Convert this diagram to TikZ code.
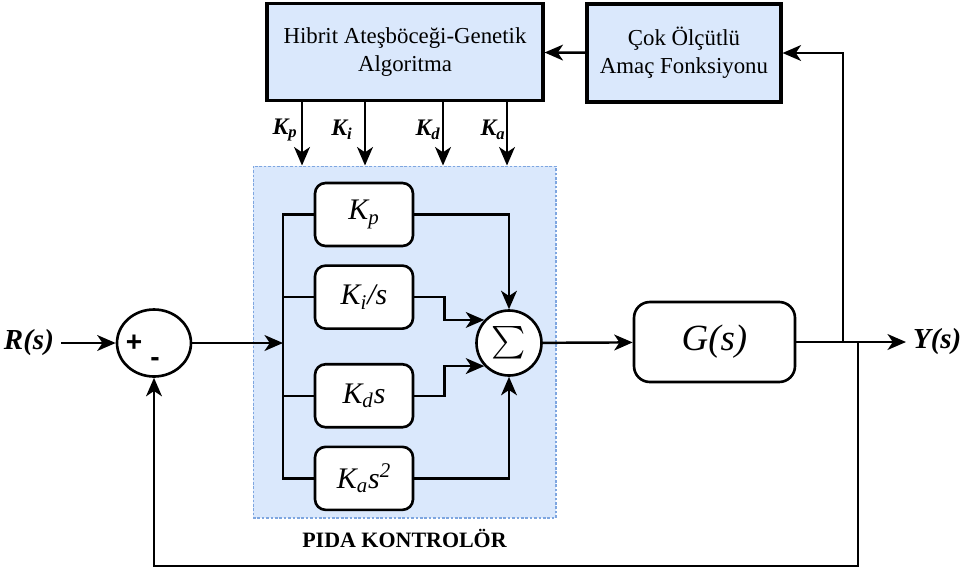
\documentclass[tikz,border=0pt]{standalone}
\usepackage{fontspec}
\setmainfont{Liberation Serif}
\newfontfamily\signfont{Liberation Sans}
\usetikzlibrary{arrows.meta, positioning, shapes.geometric}

\definecolor{paleblue}{HTML}{DAE8FC}
\definecolor{edgeblue}{HTML}{7EA6E0}

\begin{document}
\begin{tikzpicture}[x=0.02cm, y=-0.02cm, >={Stealth[length=10.5pt,width=9pt,inset=3pt]},
  line width=1.4pt, node distance=3.4mm,
  algo/.style={draw, line width=1.8pt, fill=paleblue, align=center, inner sep=0pt, font=\fontsize{13}{16}\selectfont},
  gain/.style={draw, rounded corners=6pt, line width=1.5pt, fill=white, minimum width=1.96cm, minimum height=1.26cm, inner sep=0pt, font=\fontsize{17}{19}\selectfont\itshape},
  junc/.style={draw, line width=1.5pt, fill=white, inner sep=0pt},
  sig/.style={font=\fontsize{16.5}{19}\selectfont\bfseries\itshape},
  klbl/.style={font=\fontsize{13.5}{15}\selectfont\bfseries\itshape},
  sgn/.style={font=\signfont\bfseries\fontsize{16}{16}\selectfont}]
\useasboundingbox (0,0) rectangle (963,572);

% controller area
\node[draw=edgeblue, dash pattern=on 1.5pt off 1pt, line width=0.6pt, fill=paleblue, minimum width=6.06cm, minimum height=7.04cm] (pida) at (404.5,342) {};
\node[font=\fontsize{12.5}{14}\selectfont\bfseries] (pidalbl) at (404.5,538) {PIDA KONTROLÖR};

% optimiser
\node[algo, minimum width=5.52cm, minimum height=1.94cm] (ga) at (405,52) {Hibrit Ateşböceği-Genetik\\Algoritma};
\node[algo, minimum width=3.88cm, minimum height=1.96cm] (obj) at (684,53) {Çok Ölçütlü\\Amaç Fonksiyonu};

% parallel gains
\node[gain] (kp) at (364,214.5) {K\textsubscript{p}};
\node[gain, below=of kp] (ki) {K\textsubscript{i}/s};
\node[gain, below=6.6mm of ki] (kd) {K\textsubscript{d}s};
\node[gain, below=of kd] (ka) {K\textsubscript{a}s\textsuperscript{2}};
\node[junc, circle, minimum size=1.3cm] (sum) at (509,343) {\scalebox{1.85}{$\sum$}};

% loop
\node[junc, ellipse, minimum width=1.48cm, minimum height=1.34cm] (cmp) at (154,343) {};
\node[sgn] (plus) at (134,343) {+};
\node[sgn] (minus) at (155,362) {-};
\node[gain, rounded corners=9pt, minimum width=3.22cm, minimum height=1.6cm, font=\fontsize{21}{24}\selectfont\itshape] (plant) at (714.5,342) {G(s)};
\node[sig, anchor=east] (ref) at (61,343) {R(s)};
\node[sig, anchor=west] (out) at (906,342) {Y(s)};

\coordinate (bus) at (283,343);
\coordinate (tapobj) at (843,342);
\coordinate (tapfb) at (858,342);
\coordinate (fbend) at (858,566);

\draw[->] (ref) -- (cmp);
\draw[->] (cmp) -- (bus);
\draw (kp.west) -| (ka.west -| bus) -- (ka.west);
\draw (ki.west) -- (ki.west -| bus);
\draw (kd.west) -- (kd.west -| bus);
\draw[->] (kp.east) -| (sum.north);
\draw[->] (ki.east) -- ++(30,0) |- (sum.137);
\draw[->] (kd.east) -- ++(30,0) |- (sum.223);
\draw[->] (ka.east) -| (sum.south);
\draw[->] (sum) -- (plant);
\draw[->] (plant) -- (out);
\draw[->] (tapobj) |- (obj.east);
\draw[->] (obj) -- (ga);
\draw[->] (tapfb) -- (fbend) -| (cmp.south);

% tuned gains
\foreach \x/\lx/\k in {302/285/p, 365/342/i, 443/428/d, 507/493/a} {
  \coordinate (kx\k) at (\x,0);
  \draw[->] (ga.south -| kx\k) -- (pida.north -| kx\k);
  \node[klbl] (lbl\k) at (\lx,130) {K\textsubscript{\k}};
}
\end{tikzpicture}
\end{document}
